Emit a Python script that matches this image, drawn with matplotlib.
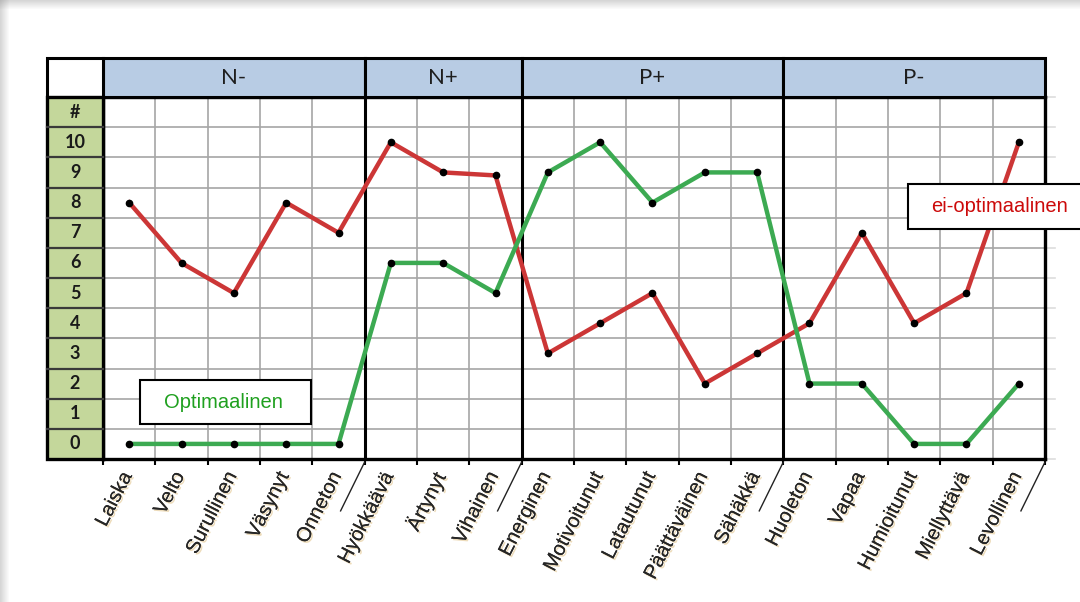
import numpy as np
import matplotlib
matplotlib.use("Agg")
import matplotlib.pyplot as plt
from matplotlib.patches import Rectangle
import matplotlib.patheffects as pe

# tunteet (x-akseli) ja ryhmät
labels = ["Laiska", "Velto", "Surullinen", "Väsynyt", "Onneton",
          "Hyökkäävä", "Ärtynyt", "Vihainen",
          "Energinen", "Motivoitunut", "Latautunut", "Päättäväinen", "Sähäkkä",
          "Huoleton", "Vapaa", "Humioitunut", "Miellyttävä", "Levollinen"]
groups = ["N-", "N+", "P+", "P-"]
group_sizes = [5, 3, 5, 5]

# arvot 0-10
ei_optimaalinen = [8, 6, 5, 8, 7, 10, 9, 8.9, 3, 4, 5, 2, 3, 4, 7, 4, 5, 10]
optimaalinen = [0, 0, 0, 0, 0, 6, 6, 5, 9, 10, 8, 9, 9, 2, 2, 0, 0, 2]
row_labels = [str(v) for v in range(11)] + ["#"]

n = len(labels)
W, H = 1080, 602
fig = plt.figure(figsize=(W / 100, H / 100), dpi=100)
fig.patch.set_facecolor("white")

# kehyksen varjo ylhäällä ja vasemmalla
bg = fig.add_axes([0, 0, 1, 1], zorder=-5)
bg.set_xlim(0, W)
bg.set_ylim(H, 0)
bg.axis("off")
for k in range(9):
    a = 0.32 * (1 - k / 9)
    bg.add_patch(Rectangle((0, k), W, 1, color="#808080", alpha=a, lw=0))
    bg.add_patch(Rectangle((k, 0), 1, H, color="#808080", alpha=a, lw=0))

ax = fig.add_axes([103 / W, (H - 459) / H, 942 / W, 362 / H])
ax.set_xlim(-0.5, n - 0.5)
ax.set_ylim(-0.5, len(row_labels) - 0.5)

# ruudukko
ax.set_xticks(np.arange(-0.5, n, 1), minor=True)
ax.set_yticks(np.arange(-0.5, len(row_labels), 1), minor=True)
ax.set_xticks([])
ax.set_yticks([])
ax.grid(which="minor", color="#a6a6a6", lw=1.2)
ax.tick_params(which="minor", axis="x", length=4, width=1.5, color="black",
               labelbottom=False)
ax.tick_params(which="minor", axis="y", length=0, labelleft=False)
ax.set_axisbelow(True)
for s in ax.spines.values():
    s.set_linewidth(2.4)
    s.set_color("black")

bounds = np.cumsum(group_sizes) - 0.5
for b in bounds[:-1]:
    ax.axvline(b, color="black", lw=2.2, zorder=2)

# otsikkorivi
hh = 1.29
top = len(row_labels) - 0.5
start = -0.5
for g, sz in zip(groups, group_sizes):
    ax.add_patch(Rectangle((start, top), sz, hh, facecolor="#b8cce4",
                           edgecolor="black", lw=2.2, clip_on=False, zorder=3))
    ax.text(start + sz / 2, top + hh / 2, g, ha="center", va="center",
            fontsize=16, family="Lato", color="#1e1e1e", zorder=4)
    start += sz

# vasen sarake
cw = 1.07
ax.add_patch(Rectangle((-0.5 - cw, top), cw, hh, facecolor="white",
                       edgecolor="black", lw=2.2, clip_on=False, zorder=3))
ax.add_patch(Rectangle((-0.5 - cw, -0.5), cw, len(row_labels), facecolor="#c4d79b",
                       edgecolor="black", lw=2.4, clip_on=False, zorder=3))
for i, r in enumerate(row_labels):
    if i > 0:
        ax.plot([-0.5 - cw, -0.5], [i - 0.5, i - 0.5], color="#3a3a3a", lw=1.6,
                clip_on=False, zorder=3.5)
    ax.text(-0.5 - cw / 2, i, r, ha="center", va="center", fontsize=13,
            fontweight="bold", family="Lato", color="#1a1a1a", zorder=4)

# haaleat jatkeet oikealla
for y in np.arange(-0.5, top + 1, 1):
    ax.plot([n - 0.5, n - 0.3], [y, y], color="#dddddd", lw=1.2, clip_on=False)

# viivat
x = np.arange(n)
ax.plot(x, ei_optimaalinen, color="#cc3636", lw=3.2, marker="o", ms=4.5,
        mfc="black", mec="black", zorder=5, solid_joinstyle="round")
ax.plot(x, optimaalinen, color="#3caa52", lw=3.2, marker="o", ms=4.5,
        mfc="black", mec="black", zorder=5, solid_joinstyle="round")

# x-akselin tekstit
shadow = [pe.withSimplePatchShadow(offset=(1.2, -1.2), shadow_rgbFace="#d9b36a",
                                   alpha=0.45), pe.Normal()]
for i, lab in enumerate(labels):
    ax.text(i + 0.13, -0.82, lab, rotation=63, ha="right", va="top",
            fontsize=14.5, family="Liberation Sans", color="#262626",
            path_effects=shadow, clip_on=False)
for b in bounds:
    ax.plot([b, b - 0.46], [-0.6, -2.22], color="#222222", lw=1,
            clip_on=False)

# selitelaatikot
ax.add_patch(Rectangle((0.2, 0.66), 3.27, 1.46, facecolor="white",
                       edgecolor="black", lw=1.5, zorder=6))
ax.text(1.8, 1.36, "Optimaalinen", ha="center", va="center", fontsize=14.5,
        family="Liberation Sans", color="#1fa01f", zorder=7)
ax.add_patch(Rectangle((14.88, 7.13), 4.0, 1.49, facecolor="white",
                       edgecolor="black", lw=1.5, zorder=6, clip_on=False))
ax.text(16.64, 7.88, "ei-optimaalinen", ha="center", va="center", fontsize=14.5,
        family="Liberation Sans", color="#cc0a0a", zorder=7, clip_on=False)

fig.savefig("out.png", dpi=100)
